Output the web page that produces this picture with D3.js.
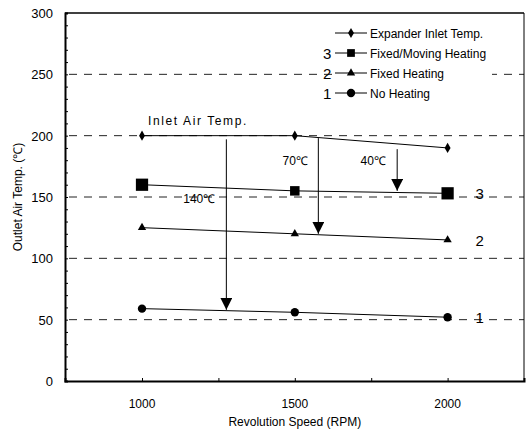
<!DOCTYPE html>
<html>
<head>
<meta charset="utf-8">
<script src="https://cdn.jsdelivr.net/npm/d3@7"></script>
<style>
  body { margin: 0; background: #fff; }
  text { font-family: "Liberation Sans", Arial, sans-serif; fill: #000; }
</style>
</head>
<body>
<svg id="chart" width="528" height="433"></svg>
<script>
const rpm = [1000, 1500, 2000];
const expanderInlet = [200, 200, 190];
const fixedMoving = [160, 155, 153];
const fixedHeating = [125, 120, 115];
const noHeating = [59, 56, 52];
const yTicks = [0, 50, 100, 150, 200, 250, 300];
const xTicks = [1000, 1500, 2000];
const gridValues = [50, 100, 150, 200, 250];

// temperature drop arrows: [rpm, from, to, label]
const arrows = [
  { x: 1276, from: 197, to: 58, label: "140\u2103", lx: 1135, ly: 145 },
  { x: 1577, from: 198, to: 120, label: "70\u2103", lx: 1460, ly: 176 },
  { x: 1835, from: 189, to: 155, label: "40\u2103", lx: 1715, ly: 176 }
];

const svg = d3.select("#chart");
const m = { left: 65, right: 4, top: 13, bottom: 52 };
const w = 528 - m.left - m.right, h = 433 - m.top - m.bottom;

const x = d3.scaleLinear().domain([748, 2250]).range([m.left, m.left + w]);
const y = d3.scaleLinear().domain([0, 300]).range([m.top + h, m.top]);

svg.append("defs").append("marker")
  .attr("id", "head")
  .attr("viewBox", "0 0 10 10")
  .attr("refX", 10).attr("refY", 5)
  .attr("markerWidth", 12).attr("markerHeight", 12)
  .attr("markerUnits", "userSpaceOnUse")
  .attr("orient", "auto")
  .append("path").attr("d", "M0,0L10,5L0,10Z").attr("fill", "#000");

// dashed grid
svg.append("g").selectAll("line").data(gridValues).enter().append("line")
  .attr("x1", m.left + 4).attr("x2", m.left + w)
  .attr("y1", d => y(d)).attr("y2", d => y(d))
  .attr("stroke", "#222").attr("stroke-width", 1)
  .attr("stroke-dasharray", "8,7");

// frame
svg.append("line").attr("x1", m.left).attr("x2", m.left + w).attr("y1", m.top).attr("y2", m.top)
  .attr("stroke", "#000").attr("stroke-width", 1.5);
svg.append("line").attr("x1", m.left + w).attr("x2", m.left + w).attr("y1", m.top).attr("y2", m.top + h)
  .attr("stroke", "#000").attr("stroke-width", 1);

// axes
const yAxis = d3.axisLeft(y).tickValues(d3.range(0, 301, 10)).tickSize(-3).tickFormat("");
svg.append("g").attr("transform", `translate(${m.left},0)`).call(yAxis)
  .call(g => g.select(".domain").attr("stroke-width", 2));
const xAxis = d3.axisBottom(x).tickValues([1000, 1250, 1500, 1750, 2000]).tickSize(-3).tickFormat("");
svg.append("g").attr("transform", `translate(0,${m.top + h})`).call(xAxis)
  .call(g => g.select(".domain").attr("stroke-width", 2));

svg.append("g").selectAll("text").data(yTicks).enter().append("text")
  .attr("x", m.left - 12).attr("y", d => y(d) + 5)
  .attr("text-anchor", "end").attr("font-size", 13).text(d => d);
svg.append("g").selectAll("text").data(xTicks).enter().append("text")
  .attr("x", d => x(d)).attr("y", m.top + h + 27)
  .attr("text-anchor", "middle").attr("font-size", 12).text(d => d);

svg.append("text").attr("x", x(1500)).attr("y", 426)
  .attr("text-anchor", "middle").attr("font-size", 12).text("Revolution Speed (RPM)");
svg.append("text").attr("transform", `translate(22,${y(150)}) rotate(-90)`)
  .attr("text-anchor", "middle").attr("font-size", 12).text("Outlet Air Temp. (\u2103)");

// series
const series = [
  { name: "Expander Inlet Temp.", vals: expanderInlet, sym: d3.symbolDiamond, size: 30, num: "" },
  { name: "Fixed/Moving Heating", vals: fixedMoving, sym: d3.symbolSquare, size: [150, 90, 150], num: "3" },
  { name: "Fixed Heating", vals: fixedHeating, sym: d3.symbolTriangle, size: 30, num: "2" },
  { name: "No Heating", vals: noHeating, sym: d3.symbolCircle, size: 55, num: "1" }
];
const line = d3.line().x(d => x(d[0])).y(d => y(d[1]));

series.forEach(s => {
  const pts = rpm.map((r, i) => [r, s.vals[i]]);
  svg.append("path").attr("d", line(pts)).attr("fill", "none")
    .attr("stroke", "#000").attr("stroke-width", 1);
  svg.append("g").selectAll("path").data(pts).enter().append("path")
    .attr("transform", d => `translate(${x(d[0])},${y(d[1])})`)
    .attr("d", (d, i) => d3.symbol(s.sym, Array.isArray(s.size) ? s.size[i] : s.size)())
    .attr("fill", "#000");
  if (s.num) {
    svg.append("text").attr("x", x(2000) + 28).attr("y", y(s.vals[2]) + 6)
      .attr("font-size", 15).text(s.num);
  }
});

// arrows
arrows.forEach(a => {
  svg.append("line").attr("x1", x(a.x)).attr("x2", x(a.x))
    .attr("y1", y(a.from)).attr("y2", y(a.to))
    .attr("stroke", "#000").attr("stroke-width", 1)
    .attr("marker-end", "url(#head)");
  svg.append("text").attr("x", x(a.lx)).attr("y", y(a.ly))
    .attr("font-size", 12).text(a.label);
});

svg.append("text").attr("x", x(1020)).attr("y", y(209))
  .attr("font-size", 12).attr("letter-spacing", 1.6).text("Inlet Air Temp.");

// legend
const lg = svg.append("g").attr("transform", "translate(335,33)");
lg.append("rect").attr("x", -3).attr("y", -9).attr("width", 160).attr("height", 76).attr("fill", "#fff");
series.forEach((s, i) => {
  const row = lg.append("g").attr("transform", `translate(0,${i * 20})`);
  row.append("line").attr("x1", 0).attr("x2", 32).attr("stroke", "#000").attr("stroke-width", 1);
  row.append("path").attr("transform", "translate(16,0)")
    .attr("d", d3.symbol(s.sym, i === 1 ? 60 : s.size)()).attr("fill", "#000");
  row.append("text").attr("x", 35).attr("y", 5).attr("font-size", 12).text(s.name);
  if (s.num) row.append("text").attr("x", -12).attr("y", 6).attr("font-size", 15).text(s.num);
});
</script>
</body>
</html>
